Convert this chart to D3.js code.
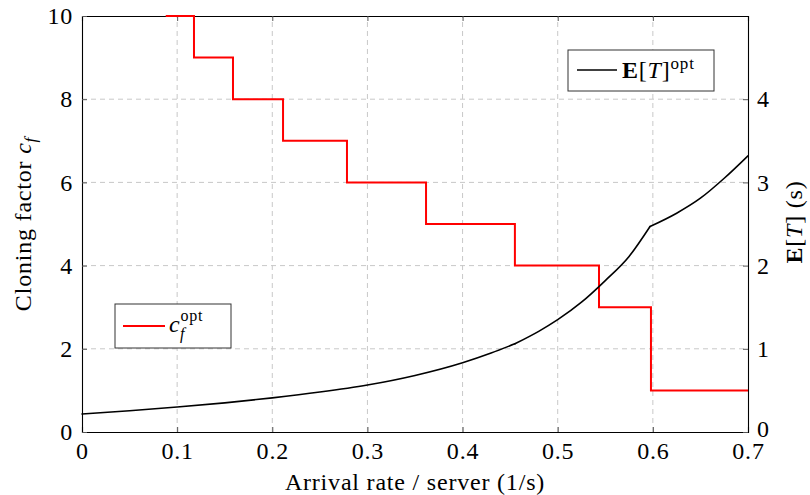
<!DOCTYPE html>
<html>
<head>
<meta charset="utf-8">
<script src="https://cdn.jsdelivr.net/npm/d3@7"></script>
<style>
  body { margin: 0; background: #fff; }
  text { font-family: "Liberation Serif", "DejaVu Serif", serif; fill: #000; letter-spacing: 0.8px; }
</style>
</head>
<body>
<div class="chart"></div>
<script>
// optimal cloning factor, step function (x where each step begins)
const cloneX = [0.088, 0.1177, 0.1587, 0.2113, 0.2785, 0.3616, 0.455, 0.5434, 0.598, 0.7];
const cloneY = [10, 9, 8, 7, 6, 5, 4, 3, 1, 1];

// optimal mean response time E[T] (right axis), three smooth pieces
const rateA = [0, 0.05, 0.1, 0.15, 0.2, 0.25, 0.3, 0.35, 0.4, 0.43, 0.455];
const timeA = [0.216, 0.255, 0.30, 0.35, 0.41, 0.48, 0.565, 0.68, 0.833, 0.95, 1.06];
const rateB = [0.455, 0.48, 0.5, 0.525, 0.55, 0.575, 0.597];
const timeB = [1.06, 1.21, 1.35, 1.56, 1.82, 2.11, 2.47];
const rateC = [0.597, 0.625, 0.65, 0.675, 0.7];
const timeC = [2.47, 2.63, 2.81, 3.05, 3.32];

const xTicks = [0, 0.1, 0.2, 0.3, 0.4, 0.5, 0.6, 0.7];
const leftTicks = [0, 2, 4, 6, 8, 10];
const rightTicks = [0, 1, 2, 3, 4];

document.addEventListener('DOMContentLoaded', () => {
  const width = 810;
  const height = 495;
  const margin = {top: 16, left: 82, right: 62, bottom: 63};
  const plotW = width - margin.left - margin.right;
  const plotH = height - margin.top - margin.bottom;

  const x = d3.scaleLinear().domain([0, 0.7]).range([margin.left, margin.left + plotW]);
  const yL = d3.scaleLinear().domain([0, 10]).range([margin.top + plotH, margin.top]);
  const yR = d3.scaleLinear().domain([0, 5]).range([margin.top + plotH, margin.top]);

  const svg = d3.select('.chart').append('svg')
    .attr('width', width).attr('height', height);

  // grid
  const grid = svg.append('g').attr('stroke', '#c8c8c8').attr('stroke-dasharray', '5,4');
  grid.selectAll('.gx').data(xTicks.slice(1, -1)).enter().append('line')
    .attr('x1', d => x(d)).attr('x2', d => x(d))
    .attr('y1', yL(0)).attr('y2', yL(10));
  grid.selectAll('.gy').data(leftTicks.slice(1, -1)).enter().append('line')
    .attr('y1', d => yL(d)).attr('y2', d => yL(d))
    .attr('x1', x(0)).attr('x2', x(0.7));

  // axes (ticks inward)
  const tickLen = 5;
  const fs = 24;
  const bottom = svg.append('g').attr('transform', `translate(0,${yL(0)})`)
    .call(d3.axisBottom(x).tickValues(xTicks).tickSize(-tickLen).tickPadding(8)
      .tickFormat(d => d === 0 ? '0' : d3.format('.1f')(d)));
  const top = svg.append('g').attr('transform', `translate(0,${yL(10)})`)
    .call(d3.axisTop(x).tickValues(xTicks).tickSize(-tickLen).tickFormat(''));
  const left = svg.append('g').attr('transform', `translate(${x(0)},0)`)
    .call(d3.axisLeft(yL).tickValues(leftTicks).tickSize(-tickLen).tickPadding(9));
  const right = svg.append('g').attr('transform', `translate(${x(0.7)},0)`)
    .call(d3.axisRight(yR).tickValues(rightTicks).tickSize(-tickLen).tickPadding(9)
      .tickFormat(d3.format('d')));

  [bottom, top, left, right].forEach(g => {
    g.select('.domain').attr('stroke', '#000').attr('stroke-width', 1.1);
    g.selectAll('.tick line').attr('stroke', '#555');
    g.selectAll('.tick text').attr('font-size', fs)
      .style('font-family', '"Liberation Serif", serif').attr('fill', '#000');
  });
  bottom.selectAll('.tick text').attr('dy', '0.8em');
  // keep the right-hand 0 clear of the 0.7 below it
  right.selectAll('.tick text').filter(d => d === 0).attr('dy', '0.2em');

  // cloning factor step line
  const step = d3.line().x(d => x(d[0])).y(d => yL(d[1])).curve(d3.curveStepAfter);
  svg.append('path')
    .datum(cloneX.map((v, i) => [v, cloneY[i]]))
    .attr('d', step)
    .attr('fill', 'none').attr('stroke', '#ff0000').attr('stroke-width', 2);

  // E[T] curve
  const line = d3.line().x(d => x(d[0])).y(d => yR(d[1])).curve(d3.curveMonotoneX);
  const pieces = [[rateA, timeA], [rateB, timeB], [rateC, timeC]];
  svg.selectAll('.et').data(pieces).enter().append('path')
    .attr('class', 'et')
    .attr('d', p => line(p[0].map((v, i) => [v, p[1][i]])))
    .attr('fill', 'none').attr('stroke', '#000').attr('stroke-width', 1.6)
    .attr('stroke-linejoin', 'round').attr('stroke-linecap', 'round');

  // axis labels
  svg.append('text')
    .attr('x', (x(0) + x(0.7)) / 2).attr('y', 490)
    .attr('text-anchor', 'middle').attr('font-size', fs)
    .text('Arrival rate / server (1/s)');

  const yl = svg.append('text')
    .attr('transform', `translate(31,${(yL(0) + yL(10)) / 2}) rotate(-90)`)
    .attr('text-anchor', 'middle').attr('font-size', fs);
  yl.append('tspan').text('Cloning factor ');
  yl.append('tspan').attr('font-style', 'italic').text('c');
  yl.append('tspan').attr('font-style', 'italic').attr('font-size', 17).attr('dy', 5).text('f');

  const yr = svg.append('text')
    .attr('transform', `translate(802,222) rotate(-90)`)
    .attr('text-anchor', 'middle').attr('font-size', fs);
  yr.append('tspan').attr('font-weight', 'bold').text('E');
  yr.append('tspan').text('[');
  yr.append('tspan').attr('font-style', 'italic').text('T');
  yr.append('tspan').text('] (s)');

  // legend: E[T]^opt
  const lg1 = svg.append('g');
  lg1.append('rect').attr('x', 568).attr('y', 50).attr('width', 146).attr('height', 41)
    .attr('fill', '#fff').attr('stroke', '#333');
  lg1.append('line').attr('x1', 577).attr('x2', 617).attr('y1', 70).attr('y2', 70)
    .attr('stroke', '#000').attr('stroke-width', 1.6);
  const t1 = lg1.append('text').attr('x', 622).attr('y', 78).attr('font-size', fs);
  t1.append('tspan').attr('font-weight', 'bold').text('E');
  t1.append('tspan').text('[');
  t1.append('tspan').attr('font-style', 'italic').text('T');
  t1.append('tspan').text(']');
  t1.append('tspan').attr('font-size', 17).attr('dy', -9).text('opt');

  // legend: c_f^opt
  const lg2 = svg.append('g');
  lg2.append('rect').attr('x', 115).attr('y', 304).attr('width', 116).attr('height', 44)
    .attr('fill', '#fff').attr('stroke', '#333');
  lg2.append('line').attr('x1', 123).attr('x2', 165).attr('y1', 326).attr('y2', 326)
    .attr('stroke', '#ff0000').attr('stroke-width', 2);
  const t2 = lg2.append('text').attr('x', 169).attr('y', 332).attr('font-size', fs);
  t2.append('tspan').attr('font-style', 'italic').text('c');
  t2.append('tspan').attr('font-size', 16).attr('dy', -11).text('opt');
  t2.append('tspan').attr('font-style', 'italic').attr('font-size', 16)
    .attr('x', 180).attr('dy', 18).text('f');
});
</script>
</body>
</html>
